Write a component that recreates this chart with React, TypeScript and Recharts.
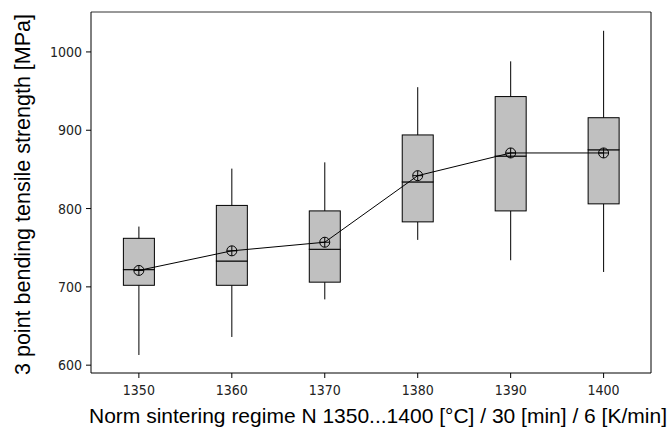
import {
  ComposedChart,
  Bar,
  Line,
  XAxis,
  YAxis,
  ReferenceLine,
} from 'recharts';

const temps = [1350, 1360, 1370, 1380, 1390, 1400];
const whiskerLow = [613, 636, 684, 760, 734, 719];
const q1 = [702, 702, 706, 783, 797, 806];
const median = [722, 733, 748, 834, 867, 875];
const q3 = [762, 804, 797, 894, 943, 916];
const whiskerHigh = [777, 851, 859, 955, 988, 1027];
const means = [721, 746, 757, 842, 871, 871];
const yTicks = [600, 700, 800, 900, 1000];

const X_DOMAIN = [1344.85, 1405.1];
const Y_DOMAIN = [590, 1051];

const data = temps.map((t, i) => ({
  temp: t,
  base: whiskerLow[i],
  wLow: q1[i] - whiskerLow[i],
  bLow: median[i] - q1[i],
  bHigh: q3[i] - median[i],
  wHigh: whiskerHigh[i] - q3[i],
  mean: means[i],
}));

const Whisker = (props: any) => {
  const { x, y, width, height } = props;
  const cx = x + width / 2;
  return <line x1={cx} x2={cx} y1={y} y2={y + height} stroke="#000" strokeWidth={1} />;
};

const BoxPart = (props: any) => {
  const { x, y, width, height } = props;
  return <rect x={x} y={y} width={width} height={height} fill="#c0c0c0" stroke="#000" strokeWidth={1} />;
};

const MeanDot = (props: any) => {
  const { cx, cy } = props;
  if (cx == null || cy == null) return null;
  const r = 5;
  return (
    <g>
      <circle cx={cx} cy={cy} r={r} fill="none" stroke="#000" strokeWidth={1} />
      <line x1={cx - r} x2={cx + r} y1={cy} y2={cy} stroke="#000" strokeWidth={1} />
      <line x1={cx} x2={cx} y1={cy - r} y2={cy + r} stroke="#000" strokeWidth={1} />
    </g>
  );
};

const tickStyle = { fontFamily: '"DejaVu Sans Condensed", "DejaVu Sans"', fontSize: 14, fill: '#222' };
const titleFont = '"Liberation Sans", Arial';

const App = () => {
  return (
    <div style={{ position: 'absolute', left: 0, top: 0, background: '#fff' }}>
      <ComposedChart
        width={670}
        height={428}
        data={data}
        margin={{ top: 12, right: 19, left: 0, bottom: 0 }}
      >
        <XAxis
          dataKey="temp"
          type="number"
          domain={X_DOMAIN}
          ticks={temps}
          height={55}
          stroke="#000"
          tick={tickStyle}
          tickSize={5}
          tickMargin={7}
          label={{
            value: 'Norm sintering regime N 1350...1400 [°C] / 30 [min] / 6 [K/min]',
            position: 'insideBottom',
            offset: 5,
            dx: 7,
            style: { fontFamily: titleFont, fontSize: 21, fill: '#000' },
          }}
        />
        <YAxis
          domain={Y_DOMAIN}
          ticks={yTicks}
          width={91}
          stroke="#000"
          allowDataOverflow
          tick={tickStyle}
          tickSize={5}
          tickMargin={4}
          label={{
            value: '3 point bending tensile strength [MPa]',
            angle: -90,
            position: 'insideLeft',
            offset: 22,
            dy: 2,
            style: { fontFamily: titleFont, fontSize: 21.5, fill: '#000', textAnchor: 'middle' },
          }}
        />
        <ReferenceLine y={Y_DOMAIN[1]} stroke="#333" strokeWidth={1} />
        <ReferenceLine x={X_DOMAIN[1]} stroke="#000" strokeWidth={1} />
        <Bar dataKey="base" stackId="box" barSize={31} shape={() => <g />} isAnimationActive={false} />
        <Bar dataKey="wLow" stackId="box" barSize={31} shape={Whisker} isAnimationActive={false} />
        <Bar dataKey="bLow" stackId="box" barSize={31} shape={BoxPart} isAnimationActive={false} />
        <Bar dataKey="bHigh" stackId="box" barSize={31} shape={BoxPart} isAnimationActive={false} />
        <Bar dataKey="wHigh" stackId="box" barSize={31} shape={Whisker} isAnimationActive={false} />
        <Line
          dataKey="mean"
          stroke="#000"
          strokeWidth={1}
          dot={MeanDot}
          activeDot={false}
          isAnimationActive={false}
        />
      </ComposedChart>
    </div>
  );
};

export default App;
